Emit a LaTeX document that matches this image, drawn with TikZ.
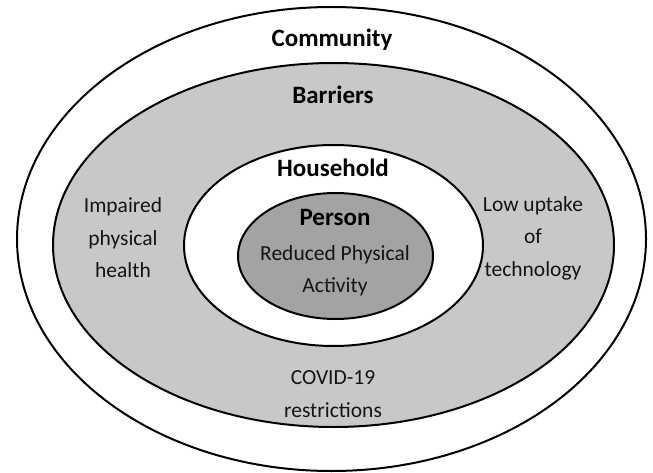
\documentclass[tikz,border=0pt]{standalone}
\usepackage{fontspec}
\setmainfont{Carlito}
\definecolor{barrierfill}{RGB}{200,200,200}
\definecolor{personfill}{RGB}{163,163,163}
\definecolor{txt}{RGB}{20,20,20}
\begin{document}
\begin{tikzpicture}[x=1pt,y=-1pt,
  ring/.style={draw=black,line width=2pt},
  lbl/.style={text=txt,font=\fontsize{21.5}{32.5}\selectfont,align=center,inner sep=0pt},
  ttl/.style={text=black,font=\fontsize{25}{28}\selectfont\bfseries,inner sep=0pt}]
\useasboundingbox (0,0) rectangle (653,473);
\fill[white] (0,0) rectangle (653,473);
\draw[ring,fill=white] (331.5,239) ellipse [x radius=314.5,y radius=232];
\draw[ring,fill=barrierfill] (333.5,245) ellipse [x radius=280.5,y radius=182];
\draw[ring,fill=white] (333.5,245.5) ellipse [x radius=149.5,y radius=100.5];
\draw[ring,fill=personfill] (335.5,256) ellipse [x radius=97.5,y radius=63];
\node[ttl] (community) at (332,40) {Community};
\node[ttl] (barriers) at (333,95) {Barriers};
\node[ttl] (household) at (333,168) {Household};
\node[ttl] (person) at (335,217) {Person};
\node[lbl] (rpa) at (335,271) {Reduced Physical\\Activity};
\node[lbl] (iph) at (123,238) {Impaired\\physical\\health};
\node[lbl] (lut) at (533,238) {Low uptake\\of\\technology};
\node[lbl] (covid) at (333,394) {COVID-19\\restrictions};
\end{tikzpicture}
\end{document}
